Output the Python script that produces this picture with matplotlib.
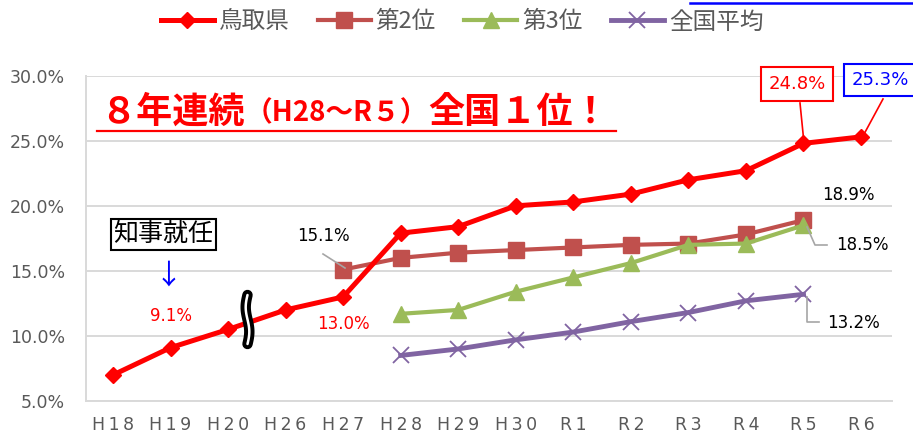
import numpy as np
import matplotlib
matplotlib.use('Agg')
import matplotlib.pyplot as plt
from matplotlib.lines import Line2D
from matplotlib.ticker import FixedLocator, FuncFormatter

# ---------------- data ----------------
categories = ['H18', 'H19', 'H20', 'H26', 'H27', 'H28', 'H29', 'H30',
              'R1', 'R2', 'R3', 'R4', 'R5', 'R6']
nan = np.nan
tottori = [7.0, 9.1, 10.5, 12.0, 13.0, 17.9, 18.4, 20.0, 20.3, 20.9, 22.0, 22.7, 24.8, 25.3]
second = [nan, nan, nan, nan, 15.1, 16.0, 16.4, 16.6, 16.8, 17.0, 17.1, 17.8, 18.9, nan]
third = [nan, nan, nan, nan, nan, 11.7, 12.0, 13.4, 14.5, 15.6, 17.0, 17.1, 18.5, nan]
national = [nan, nan, nan, nan, nan, 8.5, 9.0, 9.7, 10.3, 11.1, 11.8, 12.7, 13.2, nan]
series_names = ['鳥取県', '第2位', '第3位', '全国平均']
yticks = [5, 10, 15, 20, 25, 30]

plt.rcParams['font.family'] = ['DejaVu Sans', 'Noto Sans CJK JP']
CJK = ['Noto Sans CJK JP', 'DejaVu Sans']

W, H = 913, 438
fig = plt.figure(figsize=(W / 100, H / 100), dpi=100)


def fx(px):
    return px / W


def fy(py):
    return 1 - py / H


ax = fig.add_axes([fx(86), fy(401), (892 - 86) / W, (401 - 75.7) / H])
x = np.arange(len(categories))

grey_grid = '#D9D9D9'
l2, = ax.plot(x, second, color='#C0504D', lw=3, marker='s', ms=12, zorder=3)
l3, = ax.plot(x, third, color='#9BBB59', lw=3, marker='^', ms=12, zorder=4)
l4, = ax.plot(x, national, color='#8064A2', lw=3.5, marker='x', ms=12, mew=1.3, zorder=2)
l1, = ax.plot(x, tottori, color='#FF0000', lw=3.6, marker='D', ms=8.5, zorder=5)

ax.set_xlim(-0.469, 13.538)
ax.set_ylim(5, 30)
ax.yaxis.set_major_locator(FixedLocator(yticks))
ax.yaxis.set_major_formatter(FuncFormatter(lambda v, p: f'{v:.1f}%'))
ax.set_xticks(x)
ax.set_xticklabels(['\u2009'.join(c) for c in categories])
ax.grid(axis='y', color=grey_grid, lw=1.4, zorder=0)
for s in ['top', 'right']:
    ax.spines[s].set_visible(False)
for s in ['left', 'bottom']:
    ax.spines[s].set_color(grey_grid)
    ax.spines[s].set_linewidth(1.4)
ax.tick_params(axis='both', length=0, colors='#595959')
ax.tick_params(axis='y', pad=15, labelsize=12.5)
ax.tick_params(axis='x', pad=11, labelsize=12.5)

# legend
leg = fig.legend([l1, l2, l3, l4], series_names, loc='center',
                 bbox_to_anchor=(fx(462), fy(22)), ncol=4, frameon=False,
                 prop={'family': CJK, 'size': 17}, labelcolor='#595959',
                 handlelength=2.25, handletextpad=0.2, columnspacing=1.2)

# title
fig.canvas.draw()
rend = fig.canvas.get_renderer()
red = '#FF0000'
ty = fy(112)
t1 = fig.text(fx(100), ty, '８年連続', color=red, fontsize=26, fontweight='bold',
              family=CJK, ha='left', va='center')
bb = t1.get_window_extent(rend)
t2 = fig.text(bb.x1 / W, fy(113), '（H28～R５）', color=red, fontsize=20, fontweight='bold',
              family=CJK, ha='left', va='center')
bb = t2.get_window_extent(rend)
t3 = fig.text(bb.x1 / W, ty, '全国１位！', color=red, fontsize=26, fontweight='bold',
              family=CJK, ha='left', va='center')
fig.add_artist(Line2D([fx(97), fx(616)], [fy(131), fy(131)], color=red, lw=1.6,
                      transform=fig.transFigure))

# 知事就任 box + arrow
fig.text(fx(163), fy(234), '知事就任', fontsize=18, family=CJK, color='black',
         ha='center', va='center',
         bbox=dict(boxstyle='square,pad=0.1', fc='white', ec='black', lw=1.5))
fig.text(fx(168), fy(276), '↓', fontsize=20, color='#0000FF', ha='center', va='center',
         family=CJK)


# data labels
def lbl(cx, cy, s, color='black', size=12, **kw):
    return fig.text(fx(cx), fy(cy), s, color=color, fontsize=size, ha='center',
                    va='center', **kw)


lbl(171, 316, f'{tottori[1]:.1f}%', color=red)
lbl(343, 324, f'{tottori[4]:.1f}%', color=red)
lbl(323, 236, f'{second[4]:.1f}%')
lbl(848, 195, f'{second[12]:.1f}%')
lbl(862, 245, f'{third[12]:.1f}%')
lbl(853, 323, f'{national[12]:.1f}%')
lbl(797, 84, f'{tottori[12]:.1f}%', color=red, size=13,
    bbox=dict(boxstyle='square,pad=0.42', fc='white', ec=red, lw=1.5))
lbl(880, 80, f'{tottori[13]:.1f}%', color='#0000FF', size=13,
    bbox=dict(boxstyle='square,pad=0.4', fc='white', ec='#0000FF', lw=1.5))


def leader(pts, color='#A6A6A6', lw=1.2):
    fig.add_artist(Line2D([fx(p[0]) for p in pts], [fy(p[1]) for p in pts],
                          color=color, lw=lw, transform=fig.transFigure, zorder=1))


leader([(323, 254), (345, 268)])
leader([(800, 103), (804, 143)], color=red)
leader([(883, 99), (863, 136)], color=red)
leader([(807, 227), (815, 245), (827, 245)])
leader([(807, 297), (807, 322), (819, 322)])

# axis break squiggle
t = np.linspace(0, 1, 60)
sx = 247.5 - 1.8 * np.sin(2 * np.pi * t)
sy = 295 + 49 * t
fig.add_artist(Line2D(fx(sx), fy(sy), color='black', lw=7.5, solid_capstyle='round',
                      transform=fig.transFigure, zorder=6))
fig.add_artist(Line2D(fx(sx), fy(sy), color='white', lw=1.8, solid_capstyle='round',
                      transform=fig.transFigure, zorder=7))

# cut-off blue line top right
fig.add_artist(Line2D([fx(690), fx(912)], [fy(3), fy(3)], color='#0000FF', lw=1.8,
                      transform=fig.transFigure))

fig.savefig('out.png', dpi=100)
